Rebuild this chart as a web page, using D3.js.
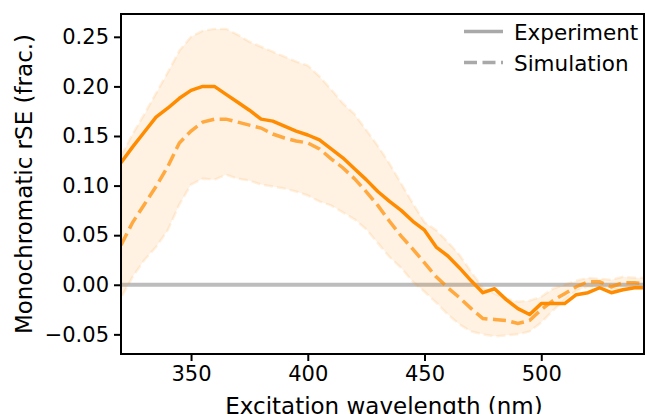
<!DOCTYPE html>
<html lang="en">
<head>
    <meta charset="UTF-8">
    <title>Monochromatic rSE</title>
    <script src="https://cdn.jsdelivr.net/npm/d3@7"></script>
</head>
<body style="margin:0; background-color:#FFFFFF;">
<script>

    const wavelength = [320, 325, 330, 335, 340, 345, 350, 355, 360, 365, 370, 375, 380, 385, 390, 395, 400, 405, 410, 415,
        420, 425, 430, 435, 440, 445, 450, 455, 460, 465, 470, 475, 480, 485, 490, 495, 500, 505, 510, 515, 520, 525, 530, 535, 540, 544]

    const experiment = [0.123, 0.139, 0.154, 0.169, 0.178, 0.188, 0.196, 0.200, 0.200, 0.192, 0.184, 0.176, 0.167, 0.165, 0.160, 0.155,
        0.151, 0.146, 0.137, 0.128, 0.117, 0.106, 0.094, 0.084, 0.075, 0.064, 0.055, 0.038, 0.029, 0.017, 0.004, -0.008, -0.004,
        -0.015, -0.024, -0.030, -0.019, -0.019, -0.019, -0.010, -0.008, -0.003, -0.008, -0.005, -0.003, -0.003]

    const simulation = [0.040, 0.063, 0.081, 0.099, 0.119, 0.143, 0.155, 0.164, 0.167, 0.167, 0.164, 0.161, 0.158, 0.152, 0.148, 0.145,
        0.143, 0.137, 0.127, 0.118, 0.107, 0.094, 0.080, 0.064, 0.049, 0.036, 0.022, 0.008, -0.003, -0.013, -0.024, -0.034, -0.035,
        -0.036, -0.039, -0.036, -0.025, -0.016, -0.009, -0.002, 0.003, 0.003, -0.002, 0.002, 0.002, 0.001]

    const simUpper = [0.130, 0.152, 0.172, 0.193, 0.214, 0.236, 0.250, 0.256, 0.258, 0.258, 0.252, 0.245, 0.240, 0.235, 0.230, 0.225,
        0.221, 0.210, 0.197, 0.183, 0.172, 0.156, 0.140, 0.122, 0.102, 0.082, 0.063, 0.055, 0.043, 0.030, 0.013, -0.003, -0.009,
        -0.014, -0.017, -0.016, -0.012, -0.004, 0.000, 0.004, 0.007, 0.006, 0.005, 0.008, 0.007, 0.007]

    const simLower = [-0.013, 0.008, 0.025, 0.038, 0.055, 0.081, 0.101, 0.107, 0.106, 0.111, 0.107, 0.105, 0.101, 0.099, 0.097, 0.094,
        0.090, 0.084, 0.080, 0.073, 0.066, 0.056, 0.042, 0.028, 0.017, 0.003, -0.007, -0.018, -0.030, -0.040, -0.047, -0.050, -0.052,
        -0.051, -0.050, -0.047, -0.038, -0.026, -0.015, -0.006, -0.002, -0.003, -0.004, -0.005, -0.004, -0.003]

    const xTicks = [350, 400, 450, 500]
    const yTicks = [-0.05, 0, 0.05, 0.10, 0.15, 0.20, 0.25]
    const legendLabels = ["Experiment", "Simulation"]

    const width = 646
    const height = 414
    const plotLeft = 121, plotRight = 644, plotTop = 14, plotBottom = 354
    const font = "DejaVu Sans, sans-serif"
    const orange = "#FF8C00"

    const xScale = d3.scaleLinear().domain([320, 544]).range([plotLeft, plotRight])
    const yScale = d3.scaleLinear().domain([-0.0698, 0.273]).range([plotBottom, plotTop])

    const svg = d3.select("body")
        .append("svg")
        .attr("width", width)
        .attr("height", height)
        .style("display", "block")

    svg.append("defs").append("clipPath").attr("id", "plot")
        .append("rect").attr("x", plotLeft).attr("y", plotTop)
        .attr("width", plotRight - plotLeft).attr("height", plotBottom - plotTop)

    const plot = svg.append("g").attr("clip-path", "url(#plot)")

    // zero reference line
    plot.append("line")
        .attr("x1", plotLeft).attr("x2", plotRight)
        .attr("y1", yScale(0)).attr("y2", yScale(0))
        .attr("stroke", "#BDBDBD")
        .attr("stroke-width", 4)

    const idx = d3.range(wavelength.length)

    const band = d3.area()
        .x(i => xScale(wavelength[i]))
        .y0(i => yScale(simLower[i]))
        .y1(i => yScale(simUpper[i]))

    plot.append("path")
        .datum(idx)
        .attr("d", band)
        .attr("fill", orange)
        .attr("fill-opacity", 0.11)
        .attr("stroke", orange)
        .attr("stroke-opacity", 0.12)
        .attr("stroke-width", 2.5)
        .attr("stroke-dasharray", "9,4")

    const line = (values) => d3.line()
        .x(i => xScale(wavelength[i]))
        .y(i => yScale(values[i]))

    plot.append("path")
        .datum(idx)
        .attr("d", line(simulation))
        .attr("fill", "none")
        .attr("stroke", orange)
        .attr("stroke-opacity", 0.72)
        .attr("stroke-width", 3.5)
        .attr("stroke-dasharray", "13,5.5")

    plot.append("path")
        .datum(idx)
        .attr("d", line(experiment))
        .attr("fill", "none")
        .attr("stroke", orange)
        .attr("stroke-width", 3.5)
        .attr("stroke-linejoin", "round")

    // axes
    const xAxis = svg.append("g")
        .attr("transform", `translate(0, ${plotBottom})`)
        .call(d3.axisBottom(xScale).tickValues(xTicks).tickSize(7).tickPadding(5).tickFormat(d3.format("d")))
    const yAxis = svg.append("g")
        .attr("transform", `translate(${plotLeft}, 0)`)
        .call(d3.axisLeft(yScale).tickValues(yTicks).tickSize(7).tickPadding(5)
            .tickFormat(d => d3.format(".2f")(d).replace("-", "\u2212")))

    for (const ax of [xAxis, yAxis]) {
        ax.select(".domain").remove()
        ax.selectAll(".tick line").attr("stroke", "#000").attr("stroke-width", 2)
        ax.selectAll(".tick text").attr("fill", "#000").style("font-family", font).style("font-size", "21px")
    }

    svg.append("rect")
        .attr("x", plotLeft).attr("y", plotTop)
        .attr("width", plotRight - plotLeft).attr("height", plotBottom - plotTop)
        .attr("fill", "none")
        .attr("stroke", "#000")
        .attr("stroke-width", 2)

    svg.append("text")
        .attr("x", 384)
        .attr("y", 414)
        .attr("text-anchor", "middle")
        .style("font-family", font)
        .style("font-size", "23px")
        .text("Excitation wavelength (nm)")

    svg.append("text")
        .attr("transform", `translate(32, 184) rotate(-90)`)
        .attr("text-anchor", "middle")
        .style("font-family", font)
        .style("font-size", "23px")
        .text("Monochromatic rSE (frac.)")

    // legend
    const legend = svg.append("g")
    legendLabels.forEach((label, i) => {
        const y = 31.5 + i * 31
        legend.append("line")
            .attr("x1", 464).attr("x2", 503)
            .attr("y1", y).attr("y2", y)
            .attr("stroke", "#A9A9A9")
            .attr("stroke-width", 3.5)
            .attr("stroke-dasharray", i === 1 ? "13,5.5" : null)
        legend.append("text")
            .attr("x", 514)
            .attr("y", y + 8)
            .style("font-family", font)
            .style("font-size", "21.5px")
            .text(label)
    })

</script>
</body>
</html>
